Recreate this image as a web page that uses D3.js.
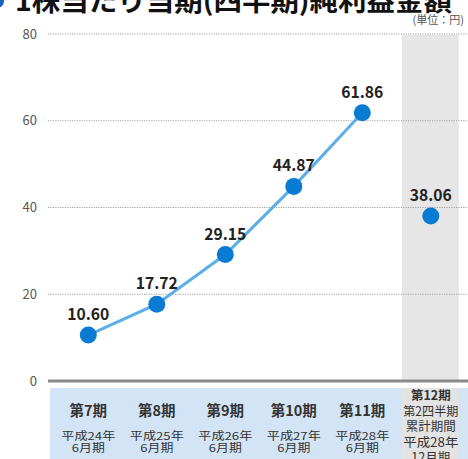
<!DOCTYPE html>
<html>
<head>
<meta charset="utf-8">
<script src="https://d3js.org/d3.v7.min.js"></script>
<style>
  body { margin: 0; background: #fff; overflow: hidden; }
  text { font-family: "Noto Sans CJK JP", "Noto Sans", sans-serif; }
</style>
</head>
<body>
<svg id="chart"></svg>
<script>
  var w = 468, h = 459;

  // data
  var periods = ["第7期", "第8期", "第9期", "第10期", "第11期", "第12期"];
  var values = [10.60, 17.72, 29.15, 44.87, 61.86, 38.06];
  var subLabels = [
    ["平成24年", "6月期"],
    ["平成25年", "6月期"],
    ["平成26年", "6月期"],
    ["平成27年", "6月期"],
    ["平成28年", "6月期"],
    ["第2四半期", "累計期間", "平成28年", "12月期"]
  ];
  var yTicks = [0, 20, 40, 60, 80];
  var title = "1株当たり当期(四半期)純利益金額";
  var unit = "(単位：円)";

  var svg = d3.select("#chart").attr("width", w).attr("height", h);

  var xScale = d3.scalePoint().domain(periods).range([88.3, 430.8]);
  var yScale = d3.scaleLinear().domain([0, 80]).range([381, 34]);
  var last = periods[periods.length - 1];

  // grey band for the quarter period
  svg.append("rect")
    .attr("x", xScale(last) - 29).attr("y", yScale(80) + 1)
    .attr("width", 57).attr("height", yScale(0) - yScale(80) - 1)
    .attr("fill", "#e6e6e6");

  // label strip under the axis
  svg.append("rect")
    .attr("x", 50).attr("y", 388).attr("width", w - 50).attr("height", h - 388)
    .attr("fill", "#d2e4f5");
  svg.append("rect")
    .attr("x", xScale(last) - 29).attr("y", 388).attr("width", 57).attr("height", h - 388)
    .attr("fill", "#e3e3e3");

  // y axis (dotted grid, no domain)
  var yAxis = d3.axisLeft(yScale).tickValues(yTicks).tickSize(0).tickPadding(0);
  var gy = svg.append("g").attr("transform", "translate(37,0)").call(yAxis);
  gy.select(".domain").remove();
  gy.selectAll("text").attr("font-size", "13px").attr("fill", "#555")
    .attr("font-family", "'Liberation Sans', sans-serif");

  svg.append("g").selectAll("line").data(yTicks.filter(function(d) { return d > 0; }))
    .enter().append("line")
    .attr("x1", 48).attr("x2", w)
    .attr("y1", function(d) { return yScale(d); }).attr("y2", function(d) { return yScale(d); })
    .attr("stroke", "#a0a0a0").attr("stroke-width", 1).attr("stroke-dasharray", "1.2,1.2");

  // baseline
  svg.append("line")
    .attr("x1", 48).attr("x2", w).attr("y1", yScale(0)).attr("y2", yScale(0))
    .attr("stroke", "#8a8a8a").attr("stroke-width", 3);

  // line through the yearly periods only
  var line = d3.line()
    .x(function(d, i) { return xScale(periods[i]); })
    .y(function(d) { return yScale(d); });
  svg.append("path").datum(values.slice(0, 5))
    .attr("d", line).attr("fill", "none")
    .attr("stroke", "#5caee6").attr("stroke-width", 3);

  svg.append("g").selectAll("circle").data(values).enter().append("circle")
    .attr("cx", function(d, i) { return xScale(periods[i]); })
    .attr("cy", function(d) { return yScale(d); })
    .attr("r", 8.5).attr("fill", "#0a7bd3");

  svg.append("g").selectAll("text").data(values).enter().append("text")
    .attr("x", function(d, i) { return xScale(periods[i]); })
    .attr("y", function(d) { return yScale(d) - 15; })
    .attr("text-anchor", "middle")
    .attr("font-family", "'Liberation Sans', sans-serif")
    .attr("font-size", "16px").attr("font-weight", "bold").attr("fill", "#222")
    .attr("textLength", 42).attr("lengthAdjust", "spacingAndGlyphs")
    .text(function(d) { return d.toFixed(2); });

  // category labels
  var cat = svg.append("g");
  periods.forEach(function(p, i) {
    var x = xScale(p);
    if (i < 5) {
      cat.append("text").attr("x", x).attr("y", 416).attr("text-anchor", "middle")
        .attr("font-size", "14.5px").attr("font-weight", "bold").attr("fill", "#333").text(p);
      subLabels[i].forEach(function(s, j) {
        cat.append("text").attr("x", x).attr("y", 440 + j * 12).attr("text-anchor", "middle")
          .attr("font-size", "11px").attr("fill", "#333")
          .attr("textLength", j == 0 ? 54 : 33).attr("lengthAdjust", "spacingAndGlyphs")
          .text(s);
      });
    } else {
      var lines = [p].concat(subLabels[i]);
      lines.forEach(function(s, j) {
        cat.append("text").attr("x", x).attr("y", 400 + j * 15.5).attr("text-anchor", "middle")
          .attr("font-size", "12.5px").attr("font-weight", j == 0 ? "bold" : "normal")
          .attr("fill", "#333")
          .attr("textLength", s.length > 4 ? 55 : null)
          .attr("lengthAdjust", "spacingAndGlyphs")
          .text(s);
      });
    }
  });

  // title (cut off at the top) and unit
  svg.append("circle").attr("cx", -3).attr("cy", 1).attr("r", 7).attr("fill", "#1a5fc4");
  svg.append("text").attr("x", 15).attr("y", 11)
    .attr("font-size", "27px").attr("font-weight", "bold").attr("fill", "#111")
    .attr("textLength", 437).attr("lengthAdjust", "spacingAndGlyphs")
    .text(title);
  svg.append("text").attr("x", 464).attr("y", 24).attr("text-anchor", "end")
    .attr("font-size", "11px").attr("fill", "#555").text(unit);
</script>
</body>
</html>
